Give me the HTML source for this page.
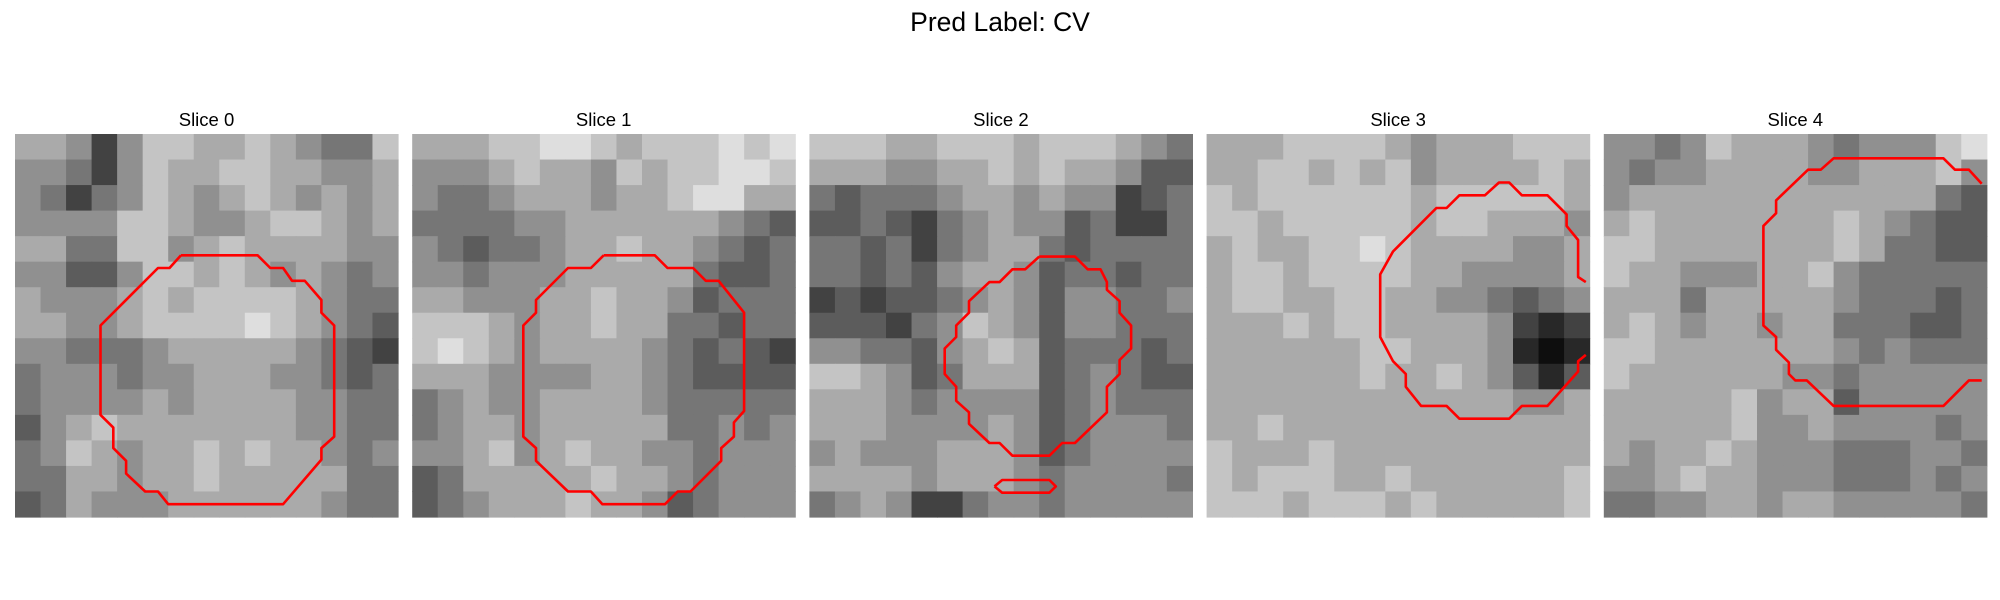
<!DOCTYPE html>
<html><head><meta charset="utf-8">
<style>
html,body{margin:0;padding:0;background:#fff;}
svg{display:block;font-family:"Liberation Sans","DejaVu Sans",sans-serif;}
</style></head>
<body>
<svg id="fig" width="2000" height="600" viewBox="0 0 2000 600" xmlns="http://www.w3.org/2000/svg">
<rect width="2000" height="600" fill="#fff"/>
<text x="1000" y="31" text-anchor="middle" font-size="26.5" fill="#000">Pred Label: CV</text>
<g id="panels"></g>
</svg>
<script>
const sliceTitles = ["Slice 0","Slice 1","Slice 2","Slice 3","Slice 4"];
// coarse brightness grids (0 = black, 9 = white), 15x15 per slice
const slice0 = ["665257766765447","554257667766556","542457656765656","555577655677656","664477567666655","553357767656545","655567677776544","665567777876543","554445666665432","455545566655434","455556566665544","356766666665544","457656676766545","446656676666644","346555666666544"];
const slice1 = ["666778876777878","555676657677887","544566656678866","444455666666543","543445667665434","554555666664334","665556676653444","777656676644344","787656666543432","666555566543333","456556666544444","456656666644545","556756766554555","346666676654555","345666766534555"];
const slice2 = ["777667776777654","666556676766533","434445665655234","334324565534224","443424566434444","443435665344344","232334565355445","333245765355444","554435676344434","776534666345433","666545555345444","666555565345554","565556665345555","666656665455554","456522455455555"];
const slice3 = ["666777765666777","667767675666676","767777776777776","776777776776665","676677876666556","677677776655556","677667766554345","666767766665212","666666776665101","666666766765313","666666666666556","667666666666666","766676666666666","767776676666667","777677767666667"];
const slice4 = ["554576665455578","545566665566675","566666666666643","676666666765433","776666666764433","766555667544444","666466666544434","676566566444334","776666666545444","766666655455555","666667566355555","666667556555545","656676555444554","556766555444545","445566566555554"];
const grids = [slice0, slice1, slice2, slice3, slice4];
// contour vertices in image-pixel coordinates (30x30 image)
const contour0 = [[13,9.5],[19,9.5],[20,10.5],[21,10.5],[21.7,11.5],[22.7,11.5],[24,13],[24,14],[25,15],[25,23.7],[24,24.6],[24,25.5],[21,29],[12,29],[11.2,28],[10.2,28],[8.7,26.6],[8.7,25.6],[7.7,24.6],[7.7,23],[6.7,22],[6.7,15],[11.2,10.5],[12.1,10.5],[13,9.5]];
const contour1 = [[15,9.5],[19,9.5],[20,10.5],[22,10.5],[23,11.5],[24,11.5],[26,14],[26,21.7],[25.2,22.6],[25.2,23.7],[24.2,24.6],[24.2,25.6],[21.8,28],[20.8,28],[19.8,29],[14.9,29],[14,28],[12.2,28],[9.7,25.6],[9.7,24.6],[8.7,23.7],[8.7,15],[9.7,14],[9.7,13],[12.2,10.5],[14,10.5],[15,9.5]];
const contour2a = [[18,9.6],[20.8,9.6],[21.8,10.6],[22.8,10.6],[23.3,11.6],[23.3,12.2],[24.3,13.1],[24.3,14],[25.2,15],[25.2,16.8],[24.3,17.7],[24.3,18.8],[23.3,19.8],[23.3,21.8],[20.8,24.2],[19.8,24.2],[18.8,25.2],[15.9,25.2],[14.9,24.2],[14.1,24.2],[12.5,22.7],[12.5,21.8],[11.5,20.9],[11.5,19.8],[10.6,18.8],[10.6,16.8],[11.5,15.9],[11.5,15],[12.5,14],[12.5,13.1],[14.1,11.6],[14.9,11.6],[15.9,10.6],[16.9,10.6],[18,9.6]];
const contour2b = [[14.5,27.6],[15.1,27.1],[18.8,27.1],[19.3,27.6],[18.8,28.1],[15.1,28.1],[14.5,27.6]];
const contour3 = [[29.7,11.6],[29.1,11.2],[29.1,8.3],[28.2,7.2],[28.2,6.3],[26.7,4.8],[24.7,4.8],[23.7,3.8],[22.9,3.8],[21.8,4.8],[19.8,4.8],[18.8,5.8],[18,5.8],[14.6,9.2],[13.6,11],[13.6,15.9],[14.6,17.8],[15.6,18.8],[15.6,19.8],[16.8,21.3],[18.8,21.3],[19.8,22.3],[23.7,22.3],[24.7,21.3],[26.7,21.3],[29.1,18.6],[29.1,17.8],[29.7,17.3]];
const contour4 = [[29.6,3.9],[28.6,2.8],[27.5,2.8],[26.6,1.9],[18,1.9],[17,2.8],[16,2.8],[13.5,5.2],[13.5,6.2],[12.5,7.2],[12.5,15],[13.5,15.9],[13.5,16.9],[14.5,17.9],[14.5,18.8],[15,19.3],[15.9,19.3],[18,21.3],[26.6,21.3],[28.6,19.3],[29.6,19.3]];
const contours = [[contour0],[contour1],[contour2a,contour2b],[contour3],[contour4]];

const NS = "http://www.w3.org/2000/svg";
const panelLeft = i => 15 + i * 397.2;
const panelTop = 134;
const panelSize = 383;
const px = (i, gx) => panelLeft(i) + gx / 30 * panelSize;
const py = gy => panelTop + gy / 30 * panelSize;
const gray = v => { const g = Math.round(14 + v * 26); return `rgb(${g},${g},${g})`; };

const root = document.getElementById('panels');
grids.forEach((grid, i) => {
  const g = document.createElementNS(NS, 'g');
  
  
  const t = document.createElementNS(NS, 'text');
  
  
  t.setAttribute('x', px(i, 15));
  t.setAttribute('y', 126);
  t.setAttribute('text-anchor', 'middle');
  t.setAttribute('font-size', '18.5');
  t.textContent = sliceTitles[i];
  g.appendChild(t);
  const n = grid.length;
  grid.forEach((row, r) => {
    row.split('').forEach((ch, c) => {
      const rc = document.createElementNS(NS, 'rect');
      
      
      const x0 = px(i, c * 30 / n), x1 = px(i, (c + 1) * 30 / n);
      const y0 = py(r * 30 / n), y1 = py((r + 1) * 30 / n);
      rc.setAttribute('x', x0.toFixed(2));
      rc.setAttribute('y', y0.toFixed(2));
      rc.setAttribute('width', (x1 - x0 + 0.6).toFixed(2));
      rc.setAttribute('height', (y1 - y0 + 0.6).toFixed(2));
      rc.setAttribute('fill', gray(+ch));
      g.appendChild(rc);
    });
  });
  contours[i].forEach(cn => {
    const pl = document.createElementNS(NS, 'polyline');
    
    
    pl.setAttribute('points', cn.map(p => px(i, p[0]).toFixed(1) + ',' + py(p[1]).toFixed(1)).join(' '));
    pl.setAttribute('fill', 'none');
    pl.setAttribute('stroke', '#ff0000');
    pl.setAttribute('stroke-width', '2.6');
    pl.setAttribute('stroke-linejoin', 'round');
    g.appendChild(pl);
  });
  root.appendChild(g);
});
</script>
</body></html>
